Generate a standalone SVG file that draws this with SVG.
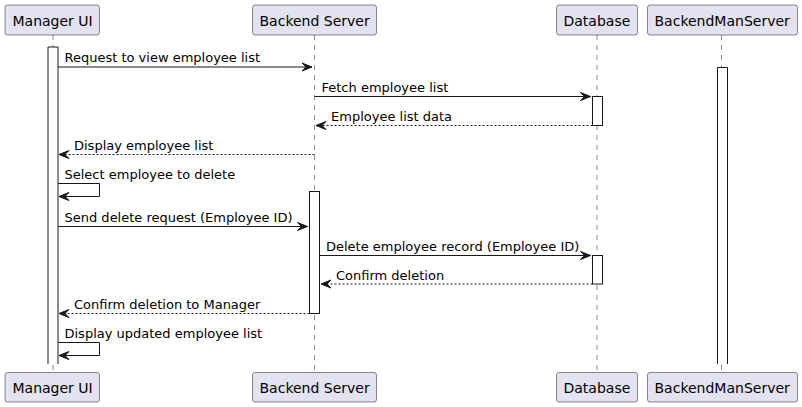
<svg xmlns="http://www.w3.org/2000/svg" width="802" height="407" viewBox="0 0 802 407">
<defs>
<style>
.p rect{fill:#E2E2F0;stroke:#181818;stroke-width:0.5}
.p text{font-family:"DejaVu Sans",sans-serif;font-size:14px;fill:#000}
.life{stroke:#181818;stroke-width:0.5;stroke-dasharray:5,5;fill:none}
.act{fill:#fff;stroke:#181818;stroke-width:1}
.actfill{fill:#fff;stroke:none}
.m{stroke:#181818;stroke-width:1;fill:none}
.d{stroke-dasharray:2,2}
.lbl{font-family:"DejaVu Sans",sans-serif;font-size:13px;fill:#000}
.ah{fill:#181818;stroke:#181818;stroke-width:1}
</style>
</defs>
<rect width="802" height="407" fill="#fff"/>
<g id="lifelines">
<line class="life" x1="53" y1="35" x2="53" y2="372"/>
<line class="life" x1="314.5" y1="35" x2="314.5" y2="372"/>
<line class="life" x1="597" y1="35" x2="597" y2="372"/>
<line class="life" x1="721.5" y1="35" x2="721.5" y2="372"/>
</g>
<g id="activations">
<rect class="actfill" x="48" y="47" width="10" height="317"/>
<polyline class="m" points="48,364 48,47 58,47 58,364"/>
<rect class="actfill" x="717.5" y="67.5" width="10" height="296.5"/>
<polyline class="m" points="717.5,364 717.5,67.5 727.5,67.5 727.5,364"/>
<rect class="act" x="592.5" y="96.5" width="10" height="29"/>
<rect class="act" x="309.5" y="191.5" width="10" height="122"/>
<rect class="act" x="592.5" y="255.5" width="10" height="28.5"/>
</g>
<g id="manager-ui" class="p">
<rect x="5" y="5" width="94.5" height="30" rx="2.5"/>
<text x="12.5" y="25.5">Manager UI</text>
<rect x="5" y="372.5" width="94.5" height="29.5" rx="2.5"/>
<text x="12.5" y="393">Manager UI</text>
</g>
<g id="backend-server" class="p">
<rect x="252.5" y="5" width="124" height="30" rx="2.5"/>
<text x="259.5" y="25.5">Backend Server</text>
<rect x="252.5" y="372.5" width="124" height="29.5" rx="2.5"/>
<text x="259.5" y="393">Backend Server</text>
</g>
<g id="database" class="p">
<rect x="556.5" y="5" width="81" height="30" rx="2.5"/>
<text x="563.5" y="25.5">Database</text>
<rect x="556.5" y="372.5" width="81" height="29.5" rx="2.5"/>
<text x="563.5" y="393">Database</text>
</g>
<g id="backendmanserver" class="p">
<rect x="647.5" y="5" width="150" height="30" rx="2.5"/>
<text x="654.5" y="25.5">BackendManServer</text>
<rect x="647.5" y="372.5" width="150" height="29.5" rx="2.5"/>
<text x="654.5" y="393">BackendManServer</text>
</g>
<g id="connectors">
<line class="m" x1="58" y1="67" x2="312" y2="67"/>
<polygon class="ah" points="302,63 312,67 302,71 306,67"/>
<text class="lbl" x="64.5" y="62">Request to view employee list</text>

<line class="m" x1="314.5" y1="96.5" x2="590.5" y2="96.5"/>
<polygon class="ah" points="580.5,92.5 590.5,96.5 580.5,100.5 584.5,96.5"/>
<text class="lbl" x="321.5" y="92">Fetch employee list</text>

<line class="m d" x1="592.5" y1="125.5" x2="316" y2="125.5"/>
<polygon class="ah" points="326,121.5 316,125.5 326,129.5 322,125.5"/>
<text class="lbl" x="331" y="121">Employee list data</text>

<line class="m d" x1="314.5" y1="154.5" x2="59" y2="154.5"/>
<polygon class="ah" points="69,150.5 59,154.5 69,158.5 65,154.5"/>
<text class="lbl" x="74" y="150">Display employee list</text>

<polyline class="m" points="58,183.5 99.5,183.5 99.5,196.5 59,196.5"/>
<polygon class="ah" points="69,192.5 59,196.5 69,200.5 65,196.5"/>
<text class="lbl" x="64.5" y="179">Select employee to delete</text>

<line class="m" x1="58" y1="226.5" x2="307.5" y2="226.5"/>
<polygon class="ah" points="297.5,222.5 307.5,226.5 297.5,230.5 301.5,226.5"/>
<text class="lbl" x="64.5" y="222">Send delete request (Employee ID)</text>

<line class="m" x1="319.5" y1="255.5" x2="590.5" y2="255.5"/>
<polygon class="ah" points="580.5,251.5 590.5,255.5 580.5,259.5 584.5,255.5"/>
<text class="lbl" x="326" y="251">Delete employee record (Employee ID)</text>

<line class="m d" x1="592.5" y1="284" x2="321" y2="284"/>
<polygon class="ah" points="331,280 321,284 331,288 327,284"/>
<text class="lbl" x="336" y="279.5">Confirm deletion</text>

<line class="m d" x1="309.5" y1="313.5" x2="59" y2="313.5"/>
<polygon class="ah" points="69,309.5 59,313.5 69,317.5 65,313.5"/>
<text class="lbl" x="74" y="309">Confirm deletion to Manager</text>

<polyline class="m" points="58,342.5 99.5,342.5 99.5,355.5 59,355.5"/>
<polygon class="ah" points="69,351.5 59,355.5 69,359.5 65,355.5"/>
<text class="lbl" x="64.5" y="338">Display updated employee list</text>
</g>
</svg>
